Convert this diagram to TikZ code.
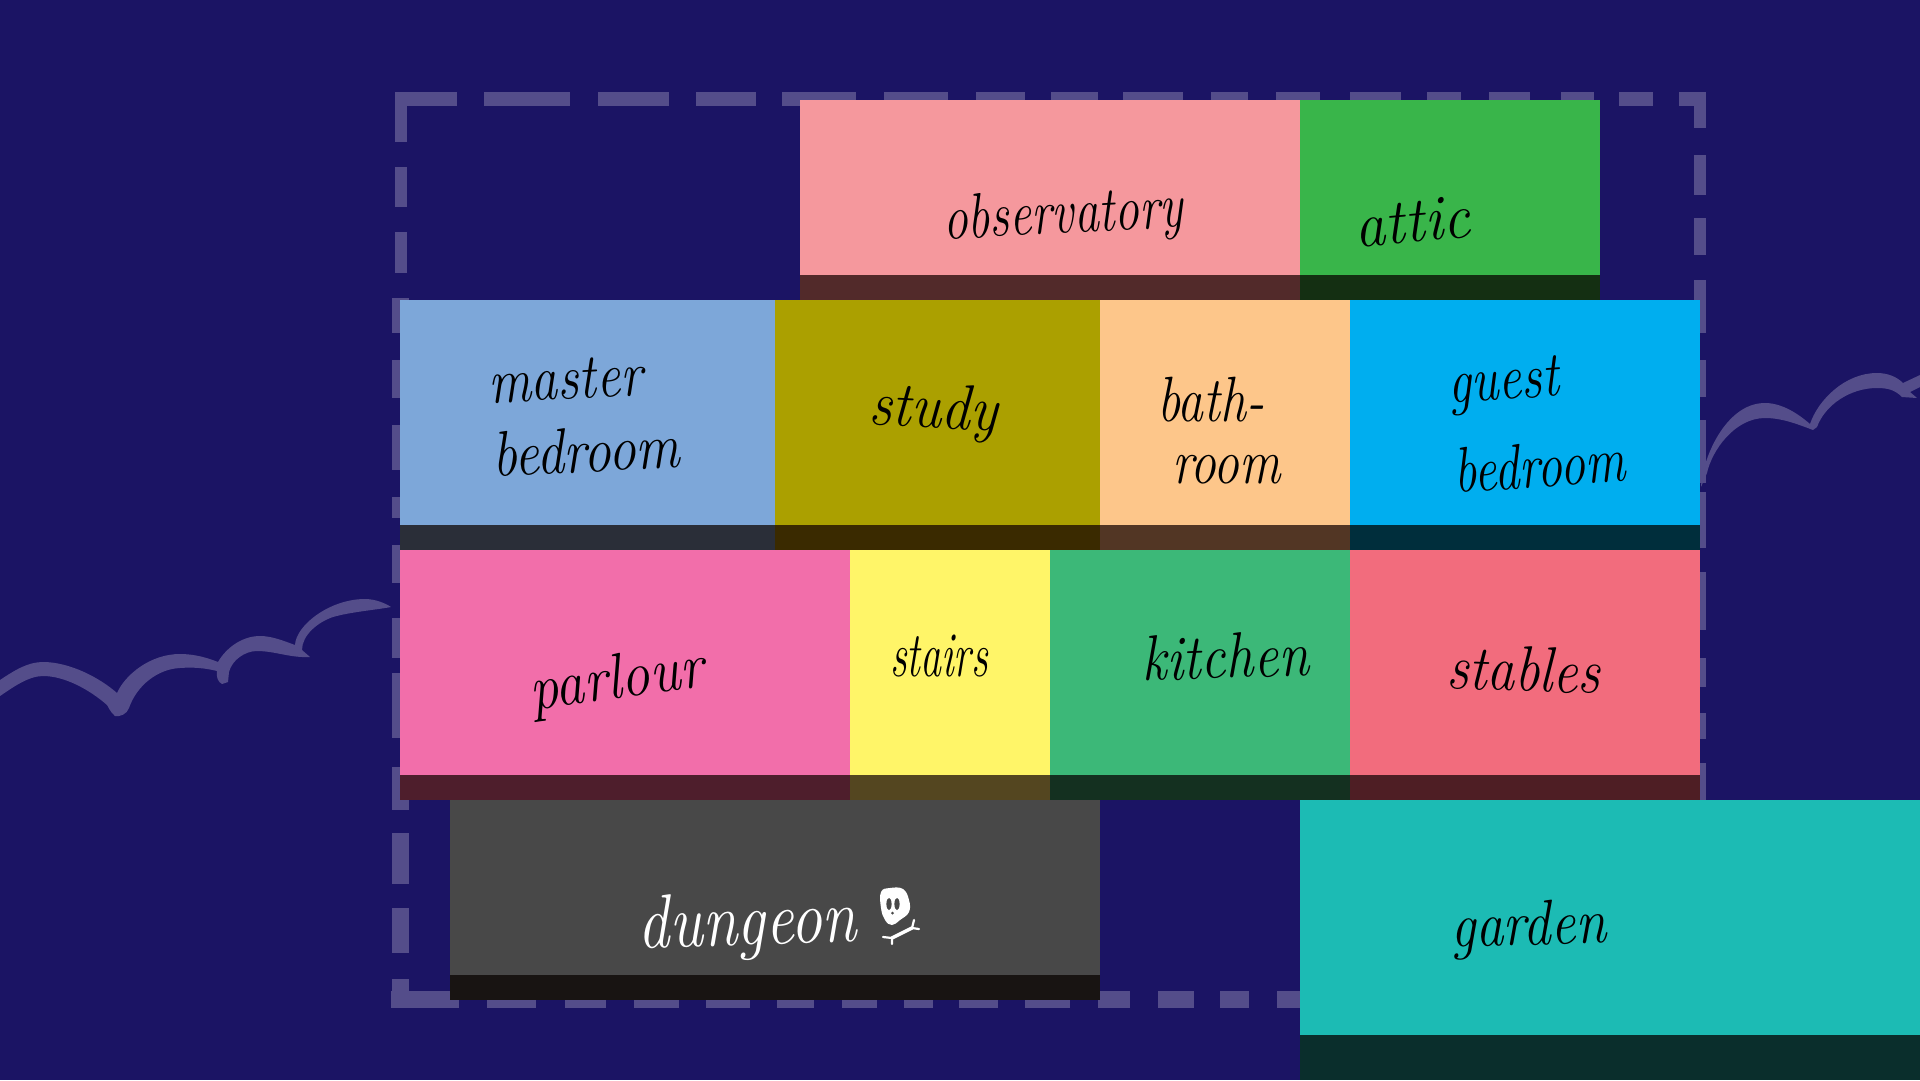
\documentclass[tikz,border=0pt]{standalone}
\usepackage{graphicx}
\definecolor{nightsky}{RGB}{27, 20, 100}
\definecolor{plotline}{RGB}{84, 77, 138}
\definecolor{obsfill}{RGB}{245, 152, 157}
\definecolor{obsshade}{RGB}{82, 42, 42}
\definecolor{atticfill}{RGB}{57, 181, 74}
\definecolor{atticshade}{RGB}{20, 47, 18}
\definecolor{masterfill}{RGB}{125, 167, 217}
\definecolor{mastershade}{RGB}{42, 46, 56}
\definecolor{studyfill}{RGB}{171, 160, 0}
\definecolor{studyshade}{RGB}{58, 42, 0}
\definecolor{bathfill}{RGB}{253, 198, 138}
\definecolor{bathshade}{RGB}{82, 54, 36}
\definecolor{guestfill}{RGB}{0, 174, 239}
\definecolor{guestshade}{RGB}{0, 46, 60}
\definecolor{parlourfill}{RGB}{242, 110, 170}
\definecolor{parlourshade}{RGB}{78, 30, 44}
\definecolor{stairsfill}{RGB}{255, 245, 104}
\definecolor{stairsshade}{RGB}{84, 70, 32}
\definecolor{kitchenfill}{RGB}{60, 184, 120}
\definecolor{kitchenshade}{RGB}{20, 48, 32}
\definecolor{stablesfill}{RGB}{242, 108, 125}
\definecolor{stablesshade}{RGB}{78, 30, 36}
\definecolor{dungeonfill}{RGB}{72, 72, 72}
\definecolor{dungeonshade}{RGB}{24, 20, 18}
\definecolor{gardenfill}{RGB}{28, 187, 180}
\definecolor{gardenshade}{RGB}{10, 46, 44}
\usetikzlibrary{positioning}
% Handwritten-looking word, squeezed to a given width in px.
\newcommand{\hand}[2]{\resizebox{#1pt}{\height}{#2}}
\tikzset{
  % Coloured body of a room (#1 = width, #2 = height).
  room/.style 2 args={
    rectangle, anchor=north west,
    minimum width=#1pt, minimum height=#2pt,
    inner sep=0pt, outer sep=0pt,
  },
  % Dark strip under a room.
  floorstrip/.style={
    rectangle, minimum width=#1pt, minimum height=25pt,
    inner sep=0pt, outer sep=0pt,
  },
  % Room names.
  roomname/.style={
    anchor=base, inner sep=0pt, align=left, text=black,
    font=\fontsize{64}{64}\selectfont\itshape,
  },
  % Rough dashes of the plot boundary.
  plotdash/.style={draw=plotline, line width=#1pt},
  cloudline/.style={fill=plotline},
}

\begin{document}
\begin{tikzpicture}[x=1pt, y=-1pt]

  \path[use as bounding box, fill=nightsky] (0,0) rectangle (1920,1080);

  % Clouds behind the house.
  \fill[cloudline] (0,680) .. controls (15,670) and (28,662) .. (43,662)
    .. controls (70,662) and (100,678) .. (117,693)
    .. controls (125,675) and (150,654) .. (180,654)
    .. controls (195,654) and (208,658) .. (218,662)
    .. controls (226,648) and (242,636) .. (260,636)
    .. controls (272,636) and (284,641) .. (295,645)
    .. controls (296,625) and (330,599) .. (365,599)
    .. controls (375,599) and (385,603) .. (391,607)
    .. controls (375,610) and (350,612) .. (333,617)
    .. controls (318,622) and (302,635) .. (302,650)
    -- (310,657)
    .. controls (290,658) and (275,651) .. (257,651)
    .. controls (245,651) and (232,660) .. (229,672)
    -- (228,682) -- (222,684)
    .. controls (218,682) and (216,677) .. (217,671)
    .. controls (205,668) and (193,667) .. (180,668)
    .. controls (158,669) and (137,685) .. (129,708)
    .. controls (127,714) and (120,717) .. (115,716)
    .. controls (110,712) and (108,706) .. (107,705)
    .. controls (90,690) and (65,676) .. (43,676)
    .. controls (28,676) and (12,688) .. (0,696) -- cycle;
  \fill[cloudline] (1701,487) .. controls (1702,460) and (1725,403) .. (1765,403)
    .. controls (1785,403) and (1803,418) .. (1810,424)
    .. controls (1818,400) and (1845,373) .. (1877,373)
    .. controls (1888,373) and (1897,377) .. (1903,383)
    -- (1920,375) -- (1920,387) -- (1910,392) -- (1917,398) -- (1902,397)
    .. controls (1895,390) and (1888,388) .. (1877,388)
    .. controls (1850,388) and (1825,405) .. (1817,427)
    -- (1813,430)
    .. controls (1797,424) and (1782,418) .. (1765,418)
    .. controls (1735,418) and (1712,450) .. (1707,473) -- cycle;

  % Plot boundary, one dash at a time.
  \foreach \a/\b in {395/457, 484/570, 598/669, 696/756, 782/856, 884/948,
    976/1025, 1051/1098, 1123/1183, 1211/1248, 1276/1320, 1350/1401,
    1427/1461, 1489/1530, 1561/1594, 1619/1653, 1679/1706}
    \draw[plotdash=14] (\a,98.5) -- (\b,98.5);
  \foreach \a/\b in {92/142, 167/207, 232/273}
    \draw[plotdash=12] (400.5,\a) -- (400.5,\b);
  \foreach \a/\b in {298/333, 360/398, 425/470, 497/518, 545/583, 618/658,
    673/738, 767/810, 833/884, 908/953, 979/1008}
    \draw[plotdash=17] (400,\a) -- (400,\b);
  \foreach \a/\b in {92/128, 155/195, 218/255, 280/333, 360/397, 420/483,
    492/548, 572/630, 658/687, 713/739, 763/800}
    \draw[plotdash=12] (1699.5,\a) -- (1699.5,\b);
  \foreach \a/\b in {391/459, 487/536, 565/606, 634/679, 706/750, 777/814,
    842/877, 904/933, 959/998, 1025/1070, 1098/1130, 1158/1194, 1220/1249,
    1277/1300}
    \draw[plotdash=17] (\a,999.5) -- (\b,999.5);

  % Top floor.
  \node[room={500}{175}, fill=obsfill] (observatory) at (800,100) {};
  \node[floorstrip=500, fill=obsshade, below=0pt of observatory] (observatoryfloor) {};
  \node[room={300}{175}, fill=atticfill] (attic) at (1300,100) {};
  \node[floorstrip=300, fill=atticshade, below=0pt of attic] (atticfloor) {};

  % Bedroom floor.
  \node[room={375}{225}, fill=masterfill] (master) at (400,300) {};
  \node[floorstrip=375, fill=mastershade, below=0pt of master] (masterfloor) {};
  \node[room={325}{225}, fill=studyfill] (study) at (775,300) {};
  \node[floorstrip=325, fill=studyshade, below=0pt of study] (studyfloor) {};
  \node[room={250}{225}, fill=bathfill] (bathroom) at (1100,300) {};
  \node[floorstrip=250, fill=bathshade, below=0pt of bathroom] (bathroomfloor) {};
  \node[room={350}{225}, fill=guestfill] (guest) at (1350,300) {};
  \node[floorstrip=350, fill=guestshade, below=0pt of guest] (guestfloor) {};

  % Ground floor.
  \node[room={450}{225}, fill=parlourfill] (parlour) at (400,550) {};
  \node[floorstrip=450, fill=parlourshade, below=0pt of parlour] (parlourfloor) {};
  \node[room={200}{225}, fill=stairsfill] (stairs) at (850,550) {};
  \node[floorstrip=200, fill=stairsshade, below=0pt of stairs] (stairsfloor) {};
  \node[room={300}{225}, fill=kitchenfill] (kitchen) at (1050,550) {};
  \node[floorstrip=300, fill=kitchenshade, below=0pt of kitchen] (kitchenfloor) {};
  \node[room={350}{225}, fill=stablesfill] (stables) at (1350,550) {};
  \node[floorstrip=350, fill=stablesshade, below=0pt of stables] (stablesfloor) {};

  % Below ground, and outside.
  \node[room={650}{175}, fill=dungeonfill] (dungeon) at (450,800) {};
  \node[floorstrip=650, fill=dungeonshade, below=0pt of dungeon] (dungeonfloor) {};
  \node[room={620}{235}, fill=gardenfill] (garden) at (1300,800) {};
  \node[room={620}{45}, fill=gardenshade] (gardenfloor) at (1300,1035) {};

  % Room names.
  \node[roomname, rotate=3] (observatoryname) at (1064,233) {\hand{240}{observatory}};
  \node[roomname, rotate=5] (atticname) at (1414,242) {\hand{115}{attic}};
  \node[roomname, rotate=3] (mastername) at (587,472) {\hand{154}{master}\\[10pt]\hand{188}{bedroom}};
  \node[roomname, rotate=-3] (studyname) at (933,428) {\hand{129}{study}};
  \node[roomname] (bathroomname) at (1219,483) {\hand{107}{bath-}\\[-2pt]\hspace*{15pt}\hand{109}{room}};
  \node[roomname, rotate=4] (guestname) at (1541,487) {\hand{111}{guest}\\[26pt]\hand{171}{bedroom}};
  \node[roomname, rotate=8] (parlourname) at (619,698) {\hand{175}{parlour}};
  \node[roomname] (stairsname) at (939,676) {\hand{98}{stairs}};
  \node[roomname, rotate=2] (kitchenname) at (1226,678) {\hand{167}{kitchen}};
  \node[roomname, rotate=-2] (stablesname) at (1523,691) {\hand{154}{stables}};
  \node[roomname, rotate=2, text=white, font=\fontsize{76}{76}\selectfont\itshape] (dungeonname) at (748,945) {\hand{219}{dungeon}};
  \node[roomname, rotate=2] (gardenname) at (1529,945) {\hand{156}{garden}};

  % Skull and bone next to the dungeon name.
  \fill[white] plot[smooth cycle, tension=0.7] coordinates {
    (881,892) (890,888) (903,889) (909,900) (909,912) (900,920) (892,925) (885,920) (881,908)};
  \fill[dungeonfill] (889,904) ellipse (2.6 and 6);
  \fill[dungeonfill] (897,904) ellipse (2.6 and 6);
  \fill[dungeonfill] (892.5,913) circle (1.5);
  \draw[white, line width=3.5pt, line cap=round] (892,938) -- (912,928);
  \draw[white, line width=2.2pt, line cap=round] (883,937) -- (892,938) -- (892,944);
  \draw[white, line width=2.2pt, line cap=round] (914,920) -- (912,928) -- (919,929);

\end{tikzpicture}
\end{document}
